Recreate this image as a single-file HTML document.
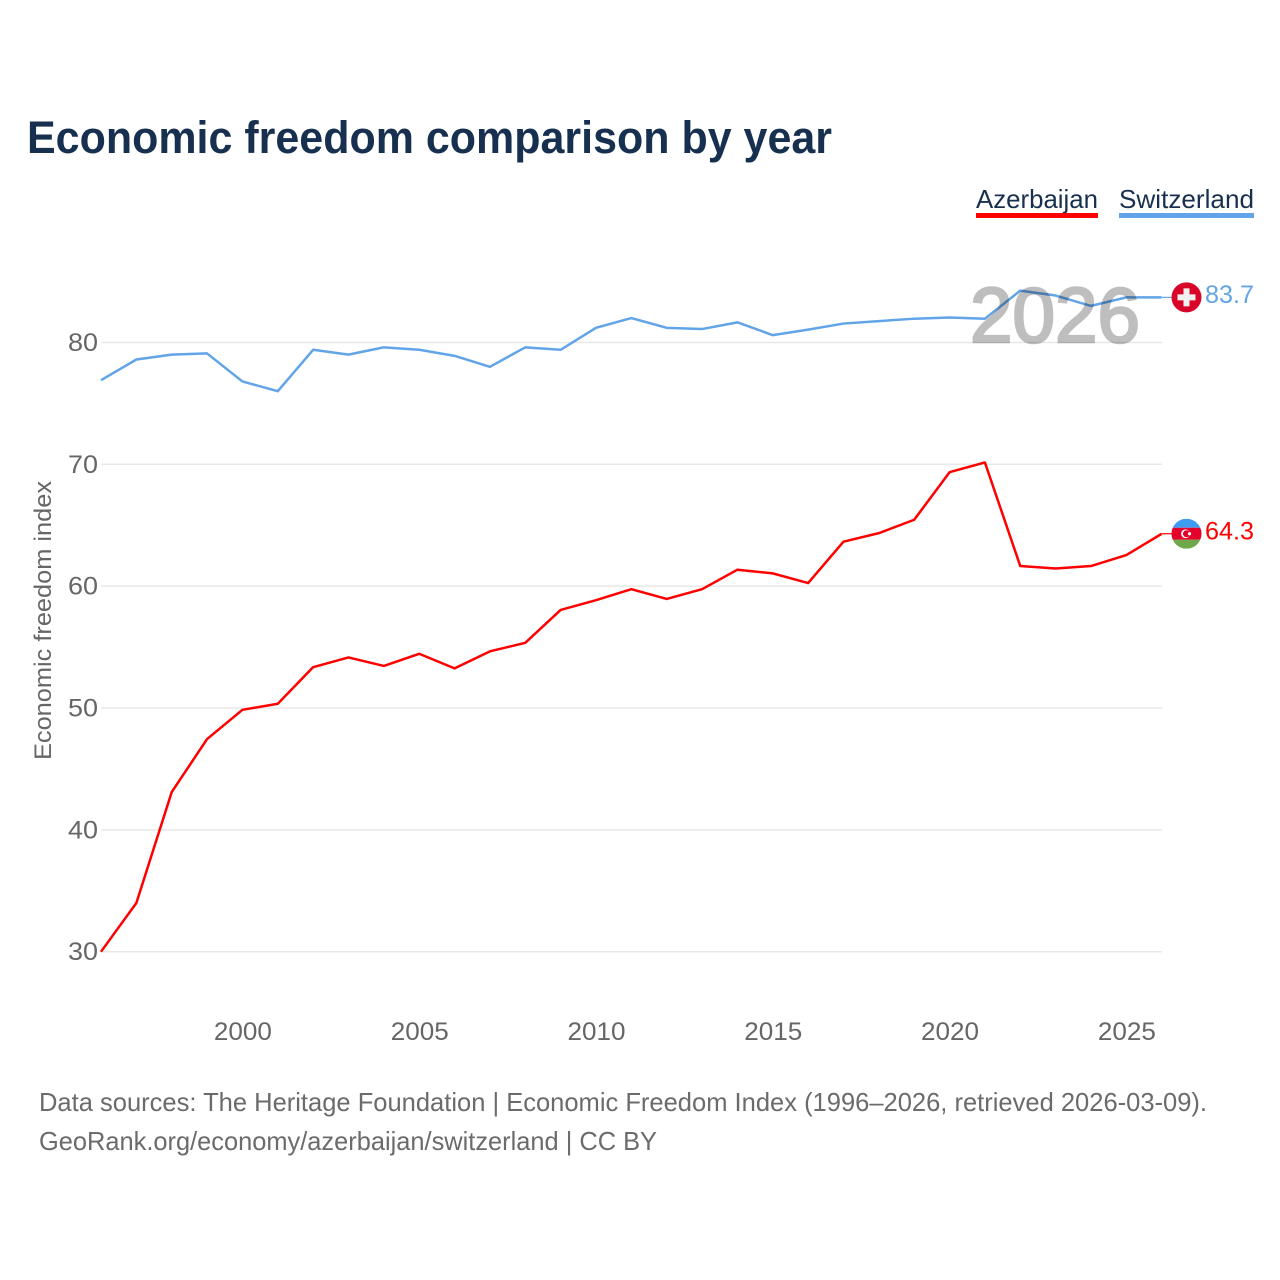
<!DOCTYPE html>
<html>
<head>
<meta charset="utf-8">
<title>Economic freedom comparison by year</title>
<style>
html,body{margin:0;padding:0;background:#fff;}
svg{display:block;}
text{font-family:"Liberation Sans",sans-serif;}
</style>
</head>
<body>
<svg id="chart" xmlns="http://www.w3.org/2000/svg" width="1280" height="1280" viewBox="0 0 1280 1280">
  <rect x="0" y="0" width="1280" height="1280" fill="#fff"/>
  <text x="27" y="153" font-size="45" font-weight="700" fill="#18304f" textLength="805" lengthAdjust="spacingAndGlyphs">Economic freedom comparison by year</text>
  <g>
    <text x="976" y="208" font-size="26" fill="#18304f" textLength="122" lengthAdjust="spacingAndGlyphs">Azerbaijan</text>
    <rect x="976" y="213" width="122" height="5" fill="#ff0000"/>
  </g>
  <g>
    <text x="1119" y="208" font-size="26" fill="#18304f" textLength="135" lengthAdjust="spacingAndGlyphs">Switzerland</text>
    <rect x="1119" y="213" width="135" height="5" fill="#62a4e8"/>
  </g>
  <text transform="translate(51,760) rotate(-90)" x="0" y="0" font-size="24" fill="#666" textLength="279" lengthAdjust="spacingAndGlyphs">Economic freedom index</text>
  <g id="grid"></g>
  <g id="yticks"></g>
  <g id="xticks"></g>
  <g id="series"></g>
  <text x="970" y="342" font-size="78" font-weight="400" fill="#000" stroke="#000" stroke-width="2.6" opacity="0.25" textLength="170" lengthAdjust="spacingAndGlyphs">2026</text>
  <g id="ends"></g>
  <text x="39" y="1111" font-size="26" fill="#6b6b6b" textLength="1168" lengthAdjust="spacingAndGlyphs">Data sources: The Heritage Foundation | Economic Freedom Index (1996–2026, retrieved 2026-03-09).</text>
  <text x="39" y="1150" font-size="26" fill="#6b6b6b" textLength="618" lengthAdjust="spacingAndGlyphs">GeoRank.org/economy/azerbaijan/switzerland | CC BY</text>
</svg>
<script>
const years = [1996,1997,1998,1999,2000,2001,2002,2003,2004,2005,2006,2007,2008,2009,2010,2011,2012,2013,2014,2015,2016,2017,2018,2019,2020,2021,2022,2023,2024,2025,2026];
const azerbaijanValues = [30.0,34.0,43.1,47.45,49.85,50.35,53.35,54.15,53.45,54.45,53.25,54.65,55.35,58.05,58.85,59.75,58.95,59.75,61.35,61.05,60.25,63.65,64.35,65.45,69.35,70.15,61.65,61.45,61.65,62.55,64.3];
const switzerlandValues = [76.9,78.6,79.0,79.1,76.8,76.0,79.4,79.0,79.6,79.4,78.9,78.0,79.6,79.4,81.2,82.0,81.2,81.1,81.65,80.6,81.05,81.55,81.75,81.95,82.05,81.95,84.25,83.85,83.0,83.7,83.7];
const yTickValues = [30,40,50,60,70,80];
const xTickValues = [2000,2005,2010,2015,2020,2025];

const NS = 'http://www.w3.org/2000/svg';
const xScale = function (year) { return 101 + (year - 1996) * (1161.7 - 101) / 30; };
const gridX1 = 101;
const gridX2 = 1162;
const yScale = function (value) { return 951.7 - (value - 30) * 12.185; };

function make(tag, attrs, parent, content) {
  const el = document.createElementNS(NS, tag);
  Object.keys(attrs).forEach(function (k) { el.setAttribute(k, attrs[k]); });
  if (content !== undefined) el.textContent = content;
  parent.appendChild(el);
  return el;
}

const grid = document.getElementById('grid');
const yticks = document.getElementById('yticks');
yTickValues.forEach(function (v) {
  const line = make('line', {x1: gridX1, x2: gridX2, y1: yScale(v), y2: yScale(v), stroke: '#e8e8e8', 'stroke-width': 1.5}, grid);
  
  
  const label = make('text', {x: 98, y: yScale(v) + 8.5, 'text-anchor': 'end', 'font-size': 25, fill: '#666', textLength: 30, lengthAdjust: 'spacingAndGlyphs'}, yticks, String(v));
  
  
});

const xticks = document.getElementById('xticks');
xTickValues.forEach(function (yr) {
  const label = make('text', {x: xScale(yr) + 0.5, y: 1040, 'text-anchor': 'middle', 'font-size': 25, fill: '#666', textLength: 58, lengthAdjust: 'spacingAndGlyphs'}, xticks, String(yr));
  
  
});

function linePath(values) {
  return values.map(function (v, i) {
    return (i ? 'L' : 'M') + xScale(years[i]).toFixed(2) + ' ' + yScale(v).toFixed(2);
  }).join(' ');
}

const seriesGroup = document.getElementById('series');
const azLine = make('path', {d: linePath(azerbaijanValues), fill: 'none', stroke: '#ff0000', 'stroke-width': 2.5, 'stroke-linejoin': 'round'}, seriesGroup);


const chLine = make('path', {d: linePath(switzerlandValues), fill: 'none', stroke: '#62a4e8', 'stroke-width': 2.5, 'stroke-linejoin': 'round'}, seriesGroup);



const ends = document.getElementById('ends');
const flagX = 1186.5;

// Switzerland end marker
const chLast = switzerlandValues[switzerlandValues.length - 1];
const chY = yScale(chLast);
const chConn = make('line', {x1: 1162, x2: 1172, y1: chY, y2: chY, stroke: '#62a4e8', 'stroke-width': 1.2}, ends);


const chFlag = make('g', {transform: 'translate(' + flagX + ',' + chY + ')'}, ends);


make('circle', {cx: 0, cy: 0, r: 15, fill: '#d90429'}, chFlag);
make('rect', {x: -9, y: -3, width: 18, height: 6, fill: '#f0f0f0'}, chFlag);
make('rect', {x: -3, y: -9, width: 6, height: 18, fill: '#f0f0f0'}, chFlag);
const chVal = make('text', {x: 1205, y: chY + 5.5, 'font-size': 25, fill: '#62a4e8', textLength: 49, lengthAdjust: 'spacingAndGlyphs'}, ends, chLast.toFixed(1));



// Azerbaijan end marker
const azLast = azerbaijanValues[azerbaijanValues.length - 1];
const azY = yScale(azLast);
const azConn = make('line', {x1: 1162, x2: 1172, y1: azY, y2: azY, stroke: '#ff0000', 'stroke-width': 1.2}, ends);


const azFlag = make('g', {transform: 'translate(' + flagX + ',' + azY + ')'}, ends);


const clip = make('clipPath', {id: 'azclip'}, azFlag);
make('circle', {cx: 0, cy: 0, r: 15}, clip);
const azBands = make('g', {'clip-path': 'url(#azclip)'}, azFlag);
make('rect', {x: -15, y: -15, width: 30, height: 9, fill: '#3f9cf3'}, azBands);
make('rect', {x: -15, y: -6, width: 30, height: 12, fill: '#e4002b'}, azBands);
make('rect', {x: -15, y: 6, width: 30, height: 9, fill: '#6ea84a'}, azBands);
make('circle', {cx: -1, cy: 0, r: 4.4, fill: '#fff'}, azFlag);
make('circle', {cx: 0, cy: 0, r: 3.5, fill: '#e4002b'}, azFlag);
make('circle', {cx: 3, cy: 0, r: 1.6, fill: '#fff'}, azFlag);
const azVal = make('text', {x: 1205, y: azY + 5.5, 'font-size': 25, fill: '#ff0000', textLength: 49, lengthAdjust: 'spacingAndGlyphs'}, ends, azLast.toFixed(1));


</script>
</body>
</html>
